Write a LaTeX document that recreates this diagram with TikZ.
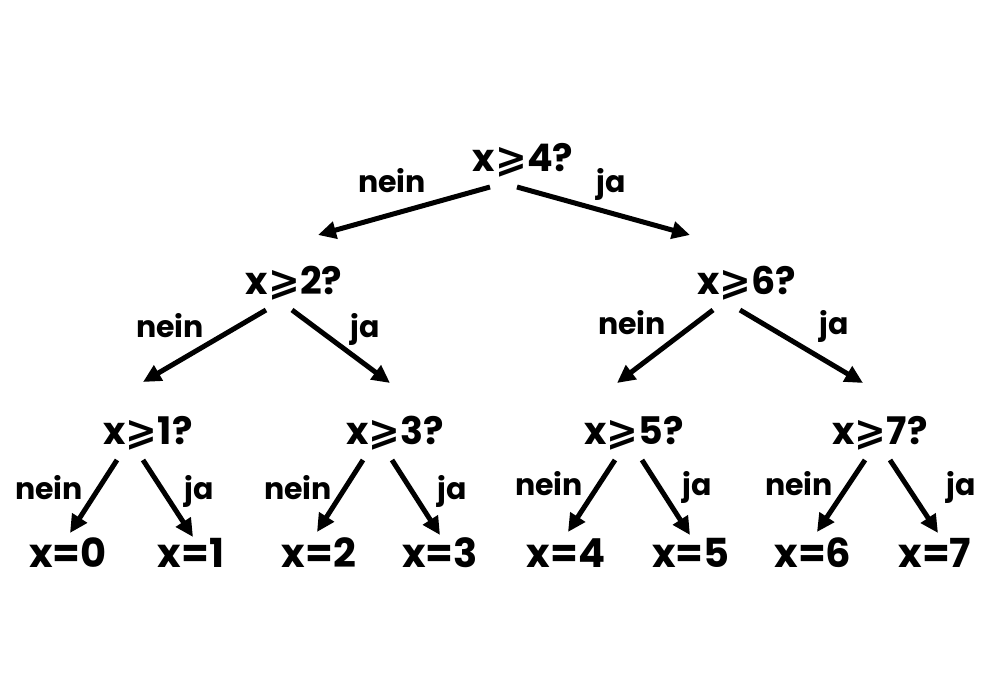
\documentclass[tikz,border=0pt]{standalone}
\usepackage{fontspec}
\setmainfont{Poppins}
\newfontfamily\symfont{DejaVu Sans}
\usetikzlibrary{arrows.meta,calc}
\newcommand{\geqs}{{\symfont\bfseries ⩾}}
\tikzset{
  qnode/.style={anchor=base,inner sep=0pt,font=\fontsize{38}{40}\selectfont\bfseries},
  leafnode/.style={anchor=base,inner sep=0pt,font=\fontsize{40}{42}\selectfont\bfseries},
  lbl/.style={anchor=base,inner sep=0pt,font=\fontsize{30}{32}\selectfont\bfseries},
  arr/.style={line width=5pt,-{Triangle[length=18pt,width=17pt]}}
}
\newcommand{\arrow}[4]{\draw[arr] ($(#1.base)+(#2)$) -- ($(#3.base)+(#4)$);}
\begin{document}
\begin{tikzpicture}[x=1pt,y=-1pt]
\fill[white] (0,0) rectangle (983,700);
\useasboundingbox (0,0) rectangle (983,700);
% question nodes
\node[qnode] (r) at (523,172) {x\geqs4?};
\node[qnode] (a) at (294,295) {x\geqs2?};
\node[qnode] (b) at (747,295) {x\geqs6?};
\node[qnode] (c1) at (148,445) {x\geqs1?};
\node[qnode] (c2) at (395,445) {x\geqs3?};
\node[qnode] (c3) at (634,445) {x\geqs5?};
\node[qnode] (c4) at (880,445) {x\geqs7?};
% leaves
\node[leafnode] (l0) at (68,567) {x=0};
\node[leafnode] (l1) at (191,567) {x=1};
\node[leafnode] (l2) at (319,567) {x=2};
\node[leafnode] (l3) at (440,567) {x=3};
\node[leafnode] (l4) at (566,567) {x=4};
\node[leafnode] (l5) at (691,567) {x=5};
\node[leafnode] (l6) at (813,567) {x=6};
\node[leafnode] (l7) at (935,567) {x=7};
% arrows
\arrow{r}{-33,15}{a}{24,-60}
\arrow{r}{-6,15}{b}{-57,-60}
\arrow{a}{-28,15}{c1}{-5,-63}
\arrow{a}{-2,15}{c2}{-5,-62}
\arrow{b}{-34,15}{c3}{-17,-62}
\arrow{b}{-7,15}{c4}{-17,-62}
\arrow{c1}{-31,15}{l0}{2,-34}
\arrow{c1}{-5,15}{l1}{2,-30}
\arrow{c2}{-32,15}{l2}{-2,-35}
\arrow{c2}{-3,15}{l3}{0,-32}
\arrow{c3}{-19,15}{l4}{2,-35}
\arrow{c3}{8,15}{l5}{-1,-32}
\arrow{c4}{-15,15}{l6}{4,-35}
\arrow{c4}{10,15}{l7}{3,-34}
% labels
\node[lbl] (n0) at (392,193) {nein};
\node[lbl] (j0) at (611,193) {ja};
\node[lbl] (n1) at (170,338) {nein};
\node[lbl] (j1) at (365,338) {ja};
\node[lbl] (n2) at (632,335) {nein};
\node[lbl] (j2) at (834,335) {ja};
\node[lbl] (n3) at (49,500) {nein};
\node[lbl] (j3) at (199,500) {ja};
\node[lbl] (n4) at (298,500) {nein};
\node[lbl] (j4) at (452,500) {ja};
\node[lbl] (n5) at (549,495) {nein};
\node[lbl] (j5) at (697,495) {ja};
\node[lbl] (n6) at (799,495) {nein};
\node[lbl] (j6) at (961,495) {ja};
\end{tikzpicture}
\end{document}
